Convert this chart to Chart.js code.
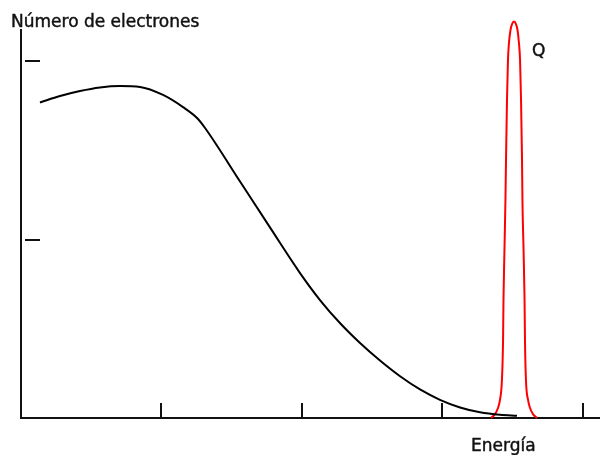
<!DOCTYPE html>
<html>
<head>
<meta charset="utf-8">
<script src="https://cdn.jsdelivr.net/npm/chart.js@4/dist/chart.umd.min.js"></script>
<style>
  html, body { margin: 0; padding: 0; background: #fff; }
  #wrap { width: 600px; height: 455px; }
</style>
</head>
<body>
<div id="wrap"><canvas id="c" width="600" height="455"></canvas></div>
<script>
// Continuous electron energy spectrum (x: energy, y: number of electrons)
const spectrumEnergy = [0.135, 0.278, 0.420, 0.562, 0.705, 0.847, 1.011, 1.153, 1.253, 1.310, 1.559, 1.772, 1.986, 2.128, 2.270, 2.413, 2.555, 2.698, 2.840, 2.982, 3.125, 3.267, 3.409, 3.530];
const spectrumCount  = [1.768, 1.804, 1.832, 1.852, 1.860, 1.855, 1.810, 1.742, 1.681, 1.625, 1.325, 1.068, 0.812, 0.661, 0.532, 0.420, 0.322, 0.234, 0.160, 0.102, 0.059, 0.032, 0.018, 0.013];

// Narrow line at energy Q
const peakEnergy = [3.345, 3.374, 3.395, 3.409, 3.423, 3.431, 3.434, 3.441, 3.448, 3.452, 3.459, 3.466, 3.473, 3.484, 3.495, 3.509, 3.523, 3.534, 3.544, 3.552, 3.559, 3.566, 3.569, 3.577, 3.584, 3.587, 3.594, 3.609, 3.623, 3.644, 3.673];
const peakCount  = [0, 0.022, 0.056, 0.101, 0.213, 0.437, 0.661, 0.941, 1.221, 1.445, 1.782, 2.006, 2.101, 2.174, 2.207, 2.221, 2.207, 2.174, 2.101, 2.006, 1.782, 1.445, 1.221, 0.941, 0.661, 0.437, 0.213, 0.101, 0.056, 0.022, 0];

// Unlabelled tick positions
const xTicks = [1, 2, 3, 4];
const yTicks = [1, 2];

const xMax = 4.121;
const yMax = 2.174;

const yTitle = 'Número de electrones';
const xTitle = 'Energía';
const peakLabel = 'Q';

const toPoints = (xs, ys) => xs.map((x, i) => ({ x: x, y: ys[i] }));

const FONT = '17px "DejaVu Sans", sans-serif';

// Text with a hairline outline for a slightly heavier stroke
function label(ctx, text, x, y) {
  ctx.fillText(text, x, y);
  ctx.strokeText(text, x, y);
}

// Inward tick marks, axis titles and the peak label
const decorations = {
  id: 'decorations',
  afterDraw(chart) {
    const { ctx, chartArea, scales } = chart;
    const xs = scales.x, ys = scales.y;
    ctx.save();
    ctx.strokeStyle = '#111';
    ctx.lineWidth = 2;
    ctx.beginPath();
    xTicks.forEach(v => {
      const px = Math.round(xs.getPixelForValue(v));
      ctx.moveTo(px, chartArea.bottom);
      ctx.lineTo(px, chartArea.bottom - 15);
    });
    yTicks.forEach(v => {
      const py = Math.round(ys.getPixelForValue(v));
      ctx.moveTo(chartArea.left + 4, py);
      ctx.lineTo(chartArea.left + 19, py);
    });
    ctx.stroke();

    ctx.fillStyle = '#111';
    ctx.strokeStyle = '#111';
    ctx.lineWidth = 0.45;
    ctx.font = FONT;
    ctx.textBaseline = 'alphabetic';
    ctx.textAlign = 'left';
    label(ctx, yTitle, 11, 27);
    label(ctx, xTitle, 471, 451);
    label(ctx, peakLabel, 532, 56);
    ctx.restore();
  }
};

new Chart(document.getElementById('c'), {
  type: 'line',
  data: {
    datasets: [
      {
        data: toPoints(spectrumEnergy, spectrumCount),
        borderColor: '#000',
        borderWidth: 2,
        pointRadius: 0,
        cubicInterpolationMode: 'monotone',
        fill: false,
        clip: false
      },
      {
        data: toPoints(peakEnergy, peakCount),
        borderColor: '#ff0000',
        borderWidth: 2,
        pointRadius: 0,
        cubicInterpolationMode: 'monotone',
        fill: false,
        clip: false
      }
    ]
  },
  options: {
    responsive: false,
    animation: false,
    events: [],
    layout: { padding: { left: 21, right: 0, top: 30, bottom: 37 } },
    plugins: { legend: { display: false }, tooltip: { enabled: false }, title: { display: false } },
    scales: {
      x: {
        type: 'linear',
        min: 0,
        max: xMax,
        ticks: { display: false },
        grid: { display: false, drawTicks: false },
        border: { display: true, color: '#111', width: 2 },
        afterFit(s) { s.height = 0; }
      },
      y: {
        type: 'linear',
        min: 0,
        max: yMax,
        ticks: { display: false },
        grid: { display: false, drawTicks: false },
        border: { display: true, color: '#111', width: 2 },
        afterFit(s) { s.width = 0; }
      }
    }
  },
  plugins: [decorations]
});
</script>
</body>
</html>
